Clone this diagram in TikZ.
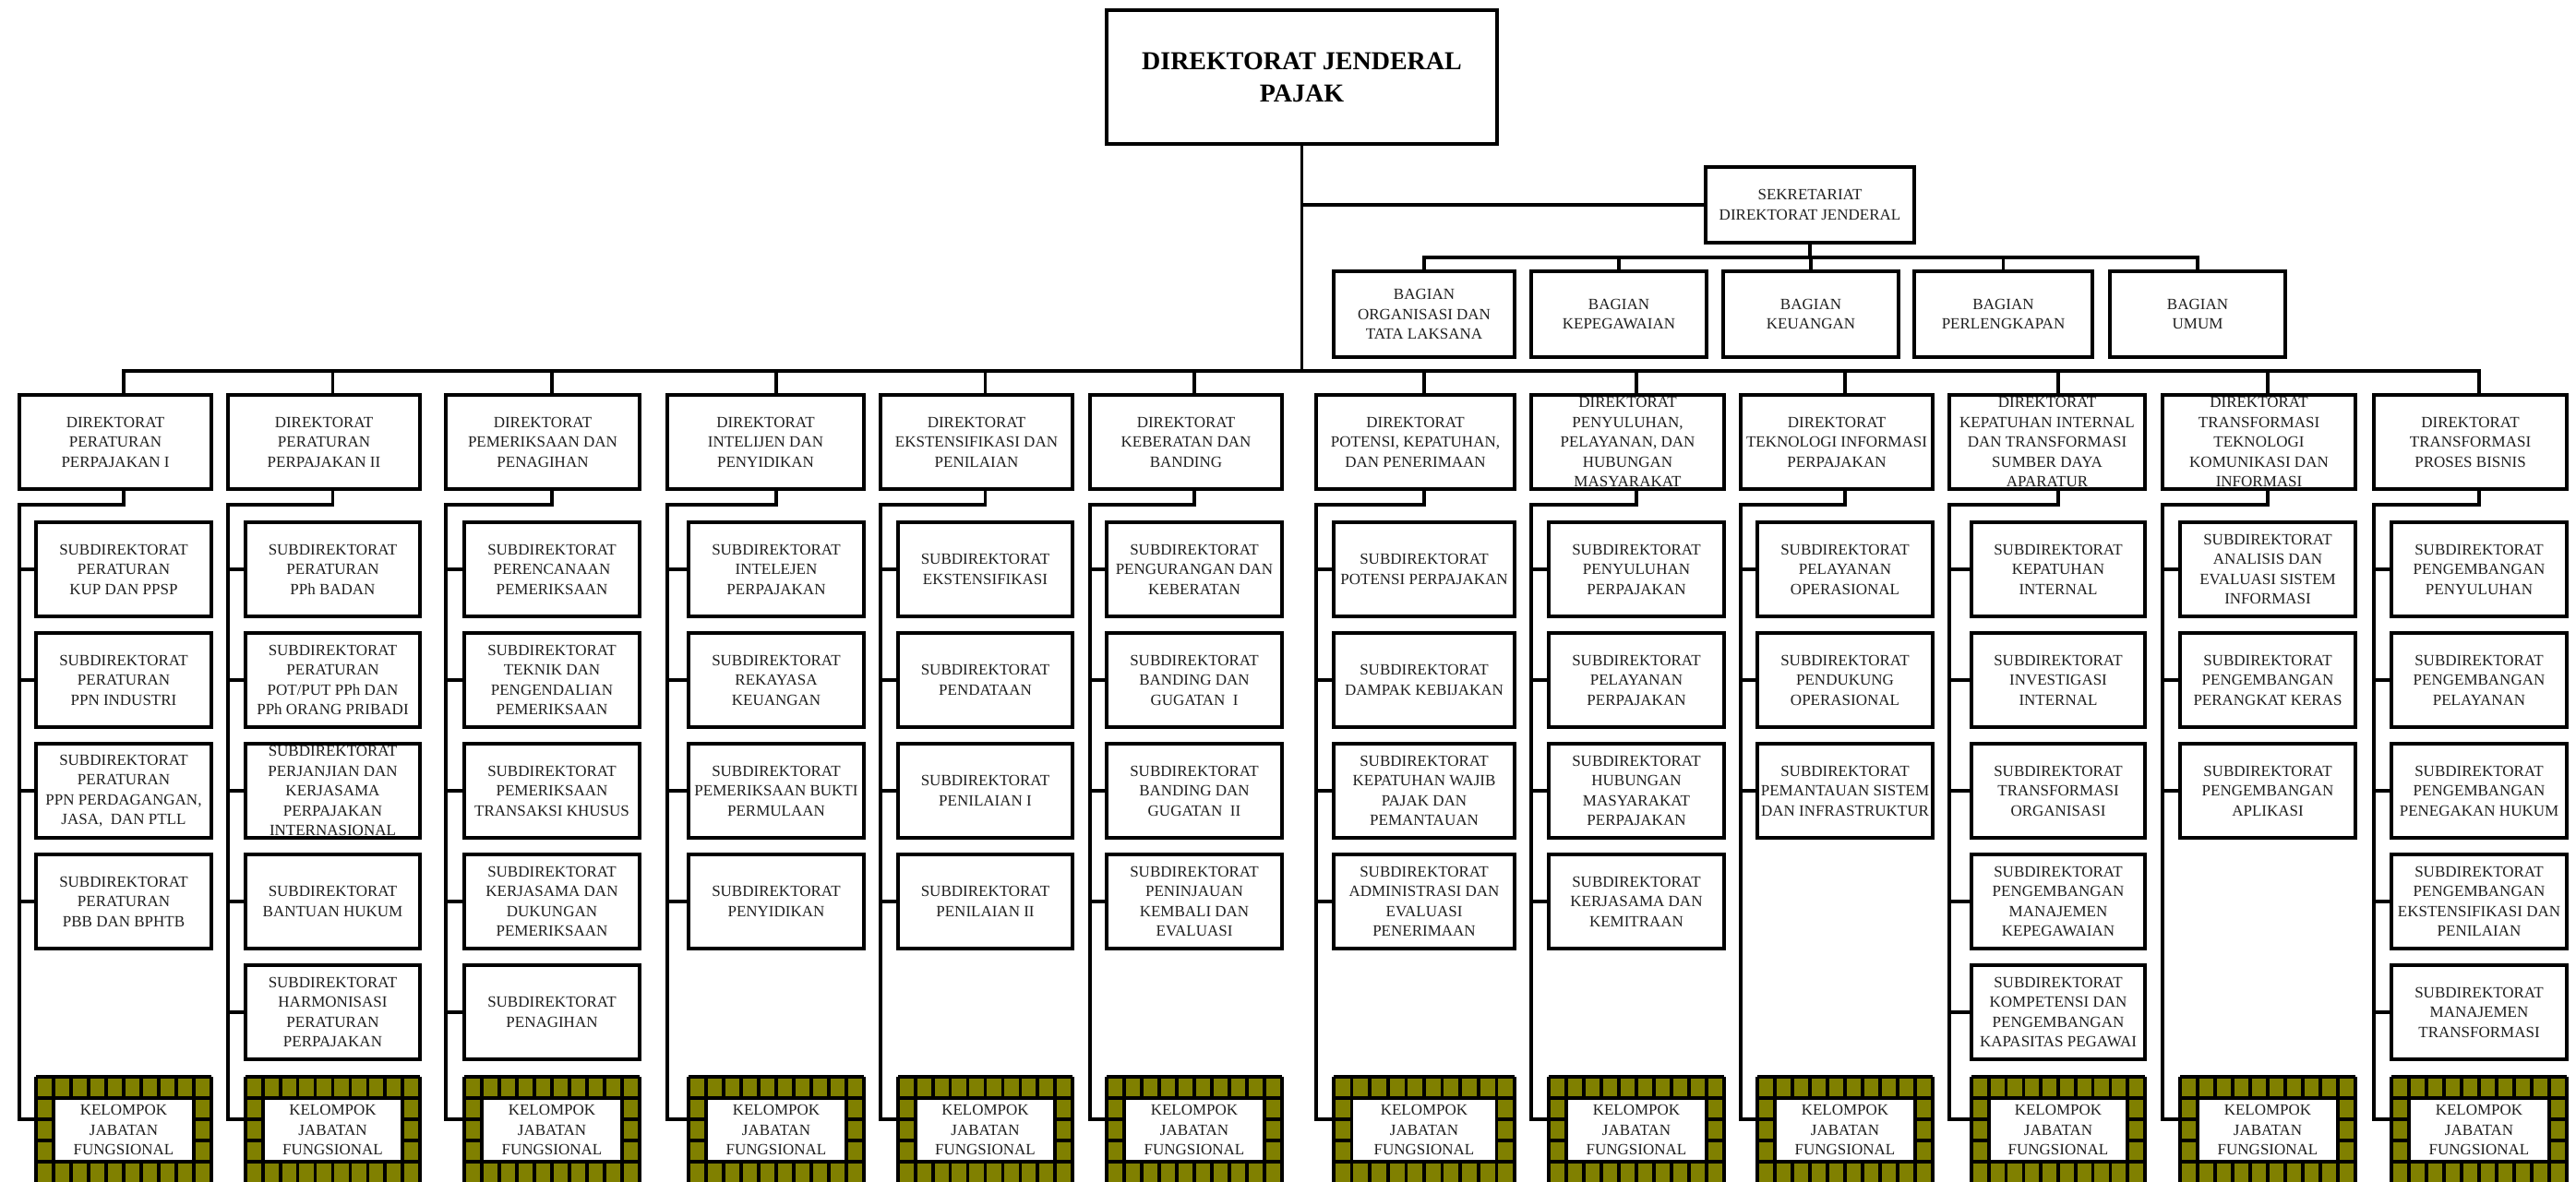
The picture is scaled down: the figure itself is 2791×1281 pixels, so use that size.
\documentclass[tikz,border=0pt]{standalone}
\usepackage{fontspec}
\setmainfont{Liberation Serif}
\definecolor{kjf}{RGB}{128,128,0}
\tikzset{
  ln/.style={line width=3.5pt, line cap=rect},
  boxs/.style={draw, line width=3.5pt, inner sep=0pt, outer sep=0pt},
  txt/.style={align=center, inner sep=0pt, font=\fontsize{17}{21.5}\selectfont, text=black!88},
  ttl/.style={align=center, inner sep=0pt, font=\fontsize{28}{35}\selectfont\bfseries},
  gridl/.style={line width=3.5pt},
}
\newcommand\bx[7]{%
  \begin{scope}
    \clip (#2,#3) rectangle (#4,#5);
    \node[#6] (#1t) at ({(#2+#4)/2},{(#3+#5)/2}) {#7};
  \end{scope}
  \node[boxs, minimum width={#4-#2}, minimum height={#5-#3}] (#1) at ({(#2+#4)/2},{(#3+#5)/2}) {};
}
\newcommand\orgcol[5]{%
  \def\ci{#1}\def\cS{#4}\def\cR{#3}%
  \bx{d#1}{#2}{428}{#3}{530}{txt}{#5}
  \coordinate (v#1) at ({(#3+#4)/2},402);
  \coordinate (kk#1) at (#4,1213);
  \pgfmathsetmacro\kw{(#3-#4)/10}
  \fill[kjf] (#4,1167) rectangle (#3,1290);
  \foreach \k in {0,...,10} \draw[gridl] ({#4+\k*\kw},1167) -- ({#4+\k*\kw},1290);
  \foreach \yy in {1167,1190,1213,1236,1259} \draw[gridl] (#4,\yy) -- (#3,\yy);
  \pgfmathsetmacro\kxa{#4+\kw}\pgfmathsetmacro\kxb{#3-\kw}
  \fill[white] (\kxa,1190) rectangle (\kxb,1259);
  \bx{k#1}{\kxa}{1190}{\kxb}{1259}{txt}{KELOMPOK\\JABATAN\\FUNGSIONAL}
  \node[inner sep=0pt, outer sep=0pt, minimum width={#3-#4}, minimum height=114, anchor=north west] (kj#1) at (#4,1167) {};
  \draw[ln] (v#1) -- (v#1 |- d#1.north);
  \draw[ln] (v#1 |- d#1.south) -- ++(0,17) -| (d#1.west |- kk#1) -- (kk#1);
}
\newcommand\subd[2]{%
  \pgfmathsetmacro\tp{446+120*#1}\pgfmathsetmacro\bt{\tp+102}%
  \bx{s\ci-#1}{\cS}{\tp}{\cR}{\bt}{txt}{#2}
  \draw[ln] (d\ci.west |- s\ci-#1.west) -- (s\ci-#1.west);
}
\begin{document}
\begin{tikzpicture}[x=1pt,y=-1pt]
\useasboundingbox (0,0) rectangle (2791,1281);
\fill[white] (0,0) rectangle (2791,1281);
\clip (0,0) rectangle (2791,1281);

\bx{main}{1199}{11}{1622}{156}{ttl}{DIREKTORAT JENDERAL\\PAJAK}
\bx{sek}{1848}{181}{2074}{263}{txt}{SEKRETARIAT\\DIREKTORAT JENDERAL}
\bx{b1}{1445}{294}{1641}{387}{txt}{BAGIAN\\ORGANISASI DAN\\TATA LAKSANA}
\bx{b2}{1659}{294}{1849}{387}{txt}{BAGIAN\\KEPEGAWAIAN}
\bx{b3}{1867}{294}{2057}{387}{txt}{BAGIAN\\KEUANGAN}
\bx{b4}{2074}{294}{2267}{387}{txt}{BAGIAN\\PERLENGKAPAN}
\bx{b5}{2286}{294}{2476}{387}{txt}{BAGIAN\\UMUM}
\coordinate (bb) at (0,279);
\draw[ln] (main.south |- sek.west) -- (sek.west);
\draw[ln] (sek.south) -- (sek.south |- bb);
\draw[ln] (b1.north) -- (b1.north |- bb) -- (b5.north |- bb) -- (b5.north);
\foreach \b in {2,3,4} \draw[ln] (b\b.north) -- (b\b.north |- bb);

\orgcol{1}{21}{229}{39}{DIREKTORAT\\PERATURAN\\PERPAJAKAN I}
\subd{1}{SUBDIREKTORAT\\PERATURAN\\KUP DAN PPSP}
\subd{2}{SUBDIREKTORAT\\PERATURAN\\PPN INDUSTRI}
\subd{3}{SUBDIREKTORAT\\PERATURAN\\PPN PERDAGANGAN,\\JASA,~ DAN PTLL}
\subd{4}{SUBDIREKTORAT\\PERATURAN\\PBB DAN BPHTB}

\orgcol{2}{247}{455}{266}{DIREKTORAT\\PERATURAN\\PERPAJAKAN II}
\subd{1}{SUBDIREKTORAT\\PERATURAN\\PPh BADAN}
\subd{2}{SUBDIREKTORAT\\PERATURAN\\POT/PUT PPh DAN\\PPh ORANG PRIBADI}
\subd{3}{SUBDIREKTORAT\\PERJANJIAN DAN\\KERJASAMA\\PERPAJAKAN\\INTERNASIONAL}
\subd{4}{SUBDIREKTORAT\\BANTUAN HUKUM}
\subd{5}{SUBDIREKTORAT\\HARMONISASI\\PERATURAN\\PERPAJAKAN}

\orgcol{3}{483}{693}{503}{DIREKTORAT\\PEMERIKSAAN DAN\\PENAGIHAN}
\subd{1}{SUBDIREKTORAT\\PERENCANAAN\\PEMERIKSAAN}
\subd{2}{SUBDIREKTORAT\\TEKNIK DAN\\PENGENDALIAN\\PEMERIKSAAN}
\subd{3}{SUBDIREKTORAT\\PEMERIKSAAN\\TRANSAKSI KHUSUS}
\subd{4}{SUBDIREKTORAT\\KERJASAMA DAN\\DUKUNGAN\\PEMERIKSAAN}
\subd{5}{SUBDIREKTORAT\\PENAGIHAN}

\orgcol{4}{723}{936}{746}{DIREKTORAT\\INTELIJEN DAN\\PENYIDIKAN}
\subd{1}{SUBDIREKTORAT\\INTELEJEN\\PERPAJAKAN}
\subd{2}{SUBDIREKTORAT\\REKAYASA\\KEUANGAN}
\subd{3}{SUBDIREKTORAT\\PEMERIKSAAN BUKTI\\PERMULAAN}
\subd{4}{SUBDIREKTORAT\\PENYIDIKAN}

\orgcol{5}{954}{1162}{973}{DIREKTORAT\\EKSTENSIFIKASI DAN\\PENILAIAN}
\subd{1}{SUBDIREKTORAT\\EKSTENSIFIKASI}
\subd{2}{SUBDIREKTORAT\\PENDATAAN}
\subd{3}{SUBDIREKTORAT\\PENILAIAN I}
\subd{4}{SUBDIREKTORAT\\PENILAIAN II}

\orgcol{6}{1181}{1389}{1199}{DIREKTORAT\\KEBERATAN DAN\\BANDING}
\subd{1}{SUBDIREKTORAT\\PENGURANGAN DAN\\KEBERATAN}
\subd{2}{SUBDIREKTORAT\\BANDING DAN\\GUGATAN~ I}
\subd{3}{SUBDIREKTORAT\\BANDING DAN\\GUGATAN~ II}
\subd{4}{SUBDIREKTORAT\\PENINJAUAN\\KEMBALI DAN\\EVALUASI}

\orgcol{7}{1426}{1641}{1445}{DIREKTORAT\\POTENSI, KEPATUHAN,\\DAN PENERIMAAN}
\subd{1}{SUBDIREKTORAT\\POTENSI PERPAJAKAN}
\subd{2}{SUBDIREKTORAT\\DAMPAK KEBIJAKAN}
\subd{3}{SUBDIREKTORAT\\KEPATUHAN WAJIB\\PAJAK DAN\\PEMANTAUAN}
\subd{4}{SUBDIREKTORAT\\ADMINISTRASI DAN\\EVALUASI\\PENERIMAAN}

\orgcol{8}{1659}{1868}{1678}{DIREKTORAT\\PENYULUHAN,\\PELAYANAN, DAN\\HUBUNGAN\\MASYARAKAT}
\subd{1}{SUBDIREKTORAT\\PENYULUHAN\\PERPAJAKAN}
\subd{2}{SUBDIREKTORAT\\PELAYANAN\\PERPAJAKAN}
\subd{3}{SUBDIREKTORAT\\HUBUNGAN\\MASYARAKAT\\PERPAJAKAN}
\subd{4}{SUBDIREKTORAT\\KERJASAMA DAN\\KEMITRAAN}

\orgcol{9}{1886}{2094}{1904}{DIREKTORAT\\TEKNOLOGI INFORMASI\\PERPAJAKAN}
\subd{1}{SUBDIREKTORAT\\PELAYANAN\\OPERASIONAL}
\subd{2}{SUBDIREKTORAT\\PENDUKUNG\\OPERASIONAL}
\subd{3}{SUBDIREKTORAT\\PEMANTAUAN SISTEM\\DAN INFRASTRUKTUR}

\orgcol{10}{2112}{2324}{2136}{DIREKTORAT\\KEPATUHAN INTERNAL\\DAN TRANSFORMASI\\SUMBER DAYA\\APARATUR}
\subd{1}{SUBDIREKTORAT\\KEPATUHAN\\INTERNAL}
\subd{2}{SUBDIREKTORAT\\INVESTIGASI\\INTERNAL}
\subd{3}{SUBDIREKTORAT\\TRANSFORMASI\\ORGANISASI}
\subd{4}{SUBDIREKTORAT\\PENGEMBANGAN\\MANAJEMEN\\KEPEGAWAIAN}
\subd{5}{SUBDIREKTORAT\\KOMPETENSI DAN\\PENGEMBANGAN\\KAPASITAS PEGAWAI}

\orgcol{11}{2343}{2552}{2362}{DIREKTORAT\\TRANSFORMASI\\TEKNOLOGI\\KOMUNIKASI DAN\\INFORMASI}
\subd{1}{SUBDIREKTORAT\\ANALISIS DAN\\EVALUASI SISTEM\\INFORMASI}
\subd{2}{SUBDIREKTORAT\\PENGEMBANGAN\\PERANGKAT KERAS}
\subd{3}{SUBDIREKTORAT\\PENGEMBANGAN\\APLIKASI}

\orgcol{12}{2572}{2781}{2591}{DIREKTORAT\\TRANSFORMASI\\PROSES BISNIS}
\subd{1}{SUBDIREKTORAT\\PENGEMBANGAN\\PENYULUHAN}
\subd{2}{SUBDIREKTORAT\\PENGEMBANGAN\\PELAYANAN}
\subd{3}{SUBDIREKTORAT\\PENGEMBANGAN\\PENEGAKAN HUKUM}
\subd{4}{SUBDIREKTORAT\\PENGEMBANGAN\\EKSTENSIFIKASI DAN\\PENILAIAN}
\subd{5}{SUBDIREKTORAT\\MANAJEMEN\\TRANSFORMASI}

\draw[ln] (main.south) -- (main.south |- v1);
\draw[ln] (v1) -- (v12);
\end{tikzpicture}
\end{document}
